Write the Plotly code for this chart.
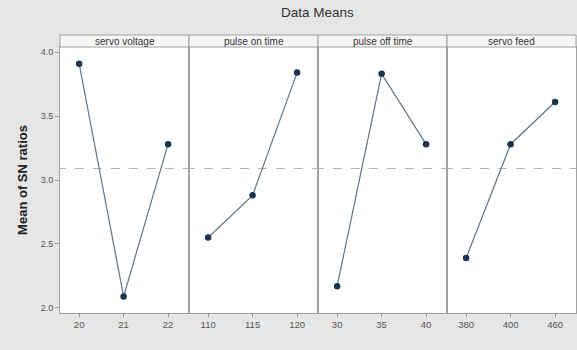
import plotly.graph_objects as go
from plotly.subplots import make_subplots

# Main effects: mean of S/N ratios at each factor level
factors = ["servo voltage", "pulse on time", "pulse off time", "servo feed"]
servo_voltage_levels = ["20", "21", "22"]
servo_voltage_means = [3.91, 2.09, 3.28]
pulse_on_levels = ["110", "115", "120"]
pulse_on_means = [2.55, 2.88, 3.84]
pulse_off_levels = ["30", "35", "40"]
pulse_off_means = [2.17, 3.83, 3.28]
servo_feed_levels = ["380", "400", "460"]
servo_feed_means = [2.39, 3.28, 3.61]
overall_mean = 3.09
y_ticks = [2.0, 2.5, 3.0, 3.5, 4.0]

levels = [servo_voltage_levels, pulse_on_levels, pulse_off_levels, servo_feed_levels]
means = [servo_voltage_means, pulse_on_means, pulse_off_means, servo_feed_means]

fig = make_subplots(rows=1, cols=4, shared_yaxes=True, horizontal_spacing=0)

border = "#a0a0a0"
for i, (lv, mv) in enumerate(zip(levels, means)):
    col = i + 1
    pos = list(range(len(lv)))
    fig.add_trace(
        go.Scatter(
            x=[-0.5, 2.5], y=[overall_mean, overall_mean], mode="lines",
            line=dict(color="#b4b4b4", width=1, dash="dash"),
            showlegend=False, hoverinfo="skip",
        ),
        row=1, col=col,
    )
    fig.add_trace(
        go.Scatter(
            x=pos, y=mv, mode="lines+markers",
            line=dict(color="#62748a", width=1.2),
            marker=dict(color="#1b3550", size=6.5),
            showlegend=False, hoverinfo="skip",
        ),
        row=1, col=col,
    )
    fig.update_xaxes(
        range=[-0.43, 2.47], tickvals=pos, ticktext=lv,
        showline=True, linecolor=border, linewidth=1, mirror=True,
        showgrid=False, zeroline=False, ticks="outside", ticklen=3,
        tickcolor="#999", tickfont=dict(size=9.5, color="#555", family="Arial"),
        row=1, col=col,
    )

fig.update_yaxes(
    range=[1.96, 4.04], tickvals=y_ticks, ticktext=[f"{v:.1f}" for v in y_ticks],
    showline=True, linecolor=border, linewidth=1, mirror=True,
    showgrid=False, zeroline=False,
)
fig.update_yaxes(
    ticks="outside", ticklen=4, tickcolor="#999",
    tickfont=dict(size=9, color="#555", family="Arial"),
    title=dict(text="<b>Mean of SN ratios</b>", font=dict(size=13, color="#222", family="Arial"), standoff=10),
    row=1, col=1,
)

# Panel header strips with factor names
strip_h = 12 / 266
for i, name in enumerate(factors):
    xref = "x domain" if i == 0 else f"x{i+1} domain"
    fig.add_shape(
        type="rect", xref=xref, yref="paper", x0=0, x1=1, y0=1, y1=1 + strip_h,
        fillcolor="#f7f7f7", line=dict(color=border, width=1), layer="above",
    )
    fig.add_annotation(
        xref=xref, yref="paper", x=0.5, y=1 + strip_h / 2, text=name,
        showarrow=False, font=dict(size=10, color="#333", family="Arial"),
        yanchor="middle",
    )

fig.update_layout(
    width=577, height=350,
    margin=dict(l=60, r=1, t=47, b=37),
    paper_bgcolor="#e6e6e6", plot_bgcolor="white",
    title=dict(text="Data Means", x=0.55, xanchor="center", y=0.965, yanchor="middle",
               font=dict(size=13.5, color="#333", family="Arial")),
)

fig.write_html("out.html")
